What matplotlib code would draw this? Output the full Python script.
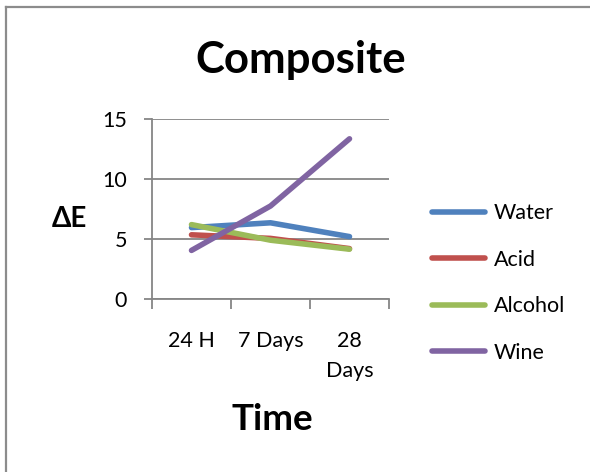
# Colour change (ΔE) of the composite over time, per storage medium.

import numpy as np
import matplotlib.pyplot as plt
from matplotlib.lines import Line2D

plt.rcParams['font.family'] = ['Lato', 'DejaVu Sans']

times = ['24 H', '7 Days', '28\nDays']
water = [5.95, 6.35, 5.2]
acid = [5.35, 5.05, 4.2]
alcohol = [6.2, 4.9, 4.15]
wine = [4.05, 7.75, 13.35]

series = [('Water', water, '#4F81BD'),
          ('Acid', acid, '#C0504D'),
          ('Alcohol', alcohol, '#9BBB59'),
          ('Wine', wine, '#8064A2')]

fig = plt.figure(figsize=(5.9, 4.72), dpi=100)
ax = fig.add_axes([152 / 590, 1 - 299 / 472, 237 / 590, 180 / 472])

# chart border: only the left and top edges sit on the canvas
for xs, ys in [([6 / 590, 6 / 590], [0, 1 - 7 / 472]),
               ([6 / 590, 1], [1 - 7 / 472, 1 - 7 / 472])]:
    fig.add_artist(Line2D(xs, ys, transform=fig.transFigure,
                          color='#8c8c8c', linewidth=1.6))

x = np.arange(len(times)) + 0.5
for name, vals, col in series:
    ax.plot(x, vals, color=col, linewidth=4.0, solid_capstyle='round',
            solid_joinstyle='round', label=name)

ax.set_xlim(0, 3)
ax.set_ylim(0, 15)
ax.set_yticks([0, 5, 10, 15])
ax.set_xticks([0, 1, 2, 3])
ax.set_xticklabels([])
ax.set_xticks(x, minor=True)
ax.set_xticklabels(times, minor=True, fontsize=15.5, linespacing=1.6)
ax.tick_params(axis='x', which='minor', length=0, pad=23)
ax.tick_params(axis='x', which='major', length=7, width=1.3, color='#868686')
ax.tick_params(axis='y', length=6, width=1.3, color='#868686', pad=12, labelsize=15.5)
ax.yaxis.grid(True, color='#868686', linewidth=1.3)
ax.set_axisbelow(True)
for s in ['top', 'right']:
    ax.spines[s].set_visible(False)
for s in ['left', 'bottom']:
    ax.spines[s].set_color('#868686')
    ax.spines[s].set_linewidth(1.3)
ax.spines['left'].set_zorder(3)

fig.text(301 / 590, 1 - 60 / 472, 'Composite', ha='center', va='center',
         fontsize=31.5, fontweight='bold')
fig.text(69 / 590, 1 - 219 / 472, 'ΔE', ha='center', va='center',
         fontsize=20, fontweight='bold')
fig.text(272 / 590, 1 - 420 / 472, 'Time', ha='center', va='center',
         fontsize=26.5, fontweight='bold')

fig.legend(loc='center left', bbox_to_anchor=(413 / 590, 1 - 283 / 472),
           frameon=False, fontsize=15.5, handlelength=2.45, handletextpad=0.4,
           labelspacing=1.23)

fig.savefig('out.png', dpi=100)
